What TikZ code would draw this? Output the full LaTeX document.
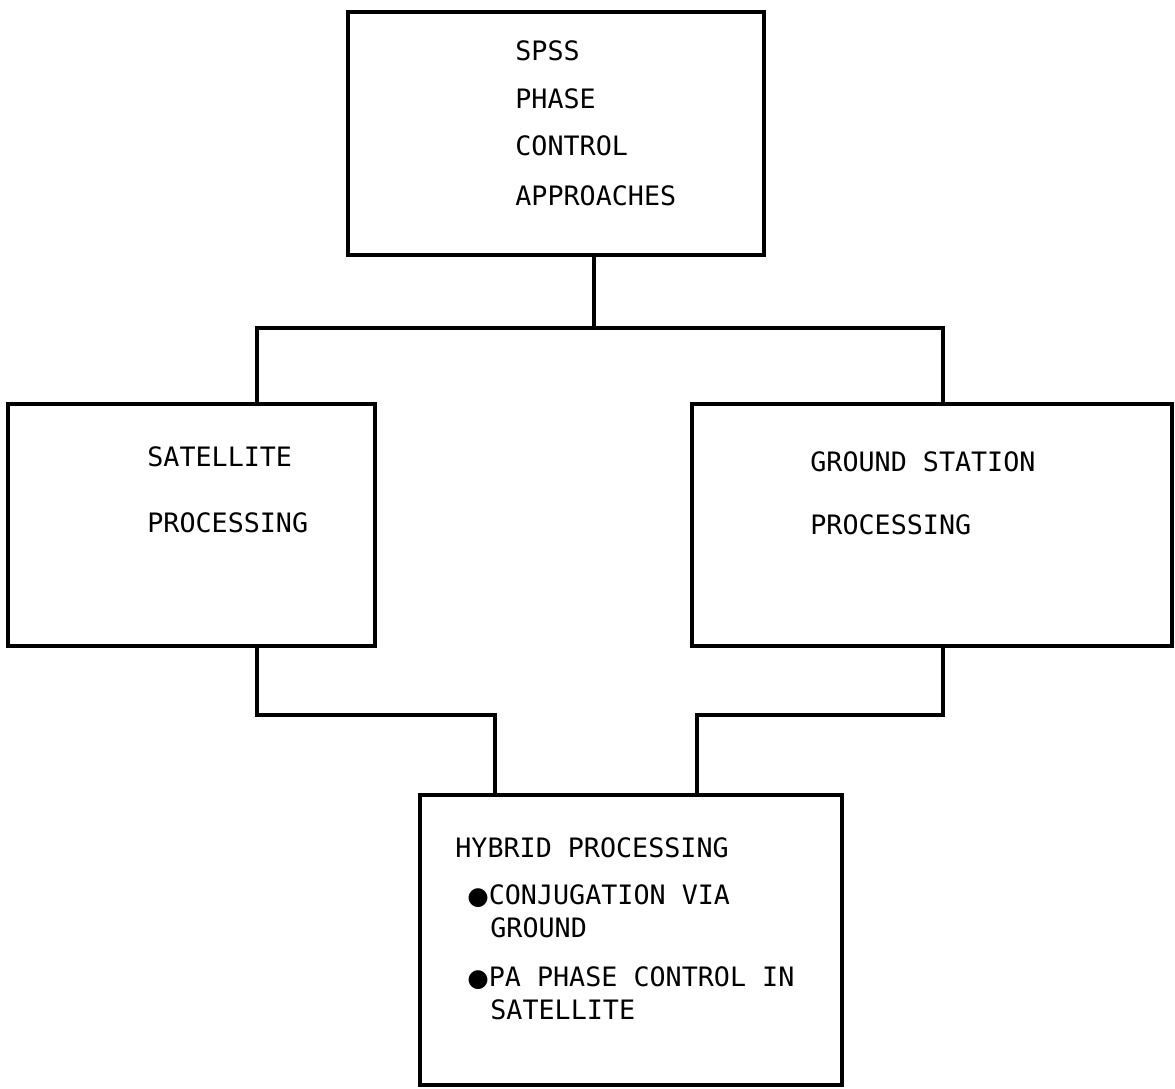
\documentclass[tikz,border=0pt]{standalone}
\usepackage{fontspec}
\newfontfamily\typed{DejaVu Sans Mono}
\newfontfamily\symb{DejaVu Sans}
\usetikzlibrary{positioning}

\tikzset{
  box/.style={draw, line width=2pt, rectangle, outer sep=0pt, inner sep=0pt},
  wire/.style={line width=2pt},
  label/.style={anchor=base west, inner sep=0pt, font=\typed\fontsize{15.2}{17}\selectfont}
}
\newcommand{\dotmark}{{\symb\fontsize{14}{17}\selectfont ●}}

\begin{document}
\begin{tikzpicture}[x=0.2mm, y=-0.2mm]
  \useasboundingbox (0,0) rectangle (1175,1088);
  % Boxes
  \node[box, minimum width=83.2mm, minimum height=48.6mm] (spss) at (556,133.5) {};
  \node[box, minimum width=73.4mm, minimum height=48.4mm] (sat) at (191.5,525) {};
  \node[box, minimum width=96mm, minimum height=48.4mm] (gnd) at (932,525) {};
  \node[box, minimum width=84.4mm, minimum height=58mm] (hyb) at (631,940) {};
  % Texts
  \node[label] (t1) at (515,60) {SPSS};
  \node[label] (t2) at (515,108) {PHASE};
  \node[label] (t3) at (515,155) {CONTROL};
  \node[label] (t4) at (515,205) {APPROACHES};
  \node[label] (s1) at (147,466) {SATELLITE};
  \node[label] (s2) at (147,532) {PROCESSING};
  \node[label] (g1) at (810,471) {GROUND STATION};
  \node[label] (g2) at (810,534) {PROCESSING};
  \node[label] (h1) at (455,857) {HYBRID PROCESSING};
  \node[label] (h2) at (467,904) {\dotmark CONJUGATION VIA};
  \node[label] (h3) at (490,937) {GROUND};
  \node[label] (h4) at (467,986) {\dotmark PA PHASE CONTROL IN};
  \node[label] (h5) at (490,1019) {SATELLITE};
  % Junctions
  \coordinate (split) at (594,328);
  \coordinate (splitL) at (257,328);
  \coordinate (splitR) at (943,328);
  \coordinate (joinL) at (495,715);
  \coordinate (joinR) at (697,715);
  % Connectors
  \draw[wire] (split |- spss.south) -- (split);
  \draw[wire] (sat.north -| splitL) -- (splitL) -- (splitR) -- (gnd.north -| splitR);
  \draw[wire] (sat.south -| splitL) |- (joinL) -- (hyb.north -| joinL);
  \draw[wire] (gnd.south -| splitR) |- (joinR) -- (hyb.north -| joinR);
\end{tikzpicture}
\end{document}
